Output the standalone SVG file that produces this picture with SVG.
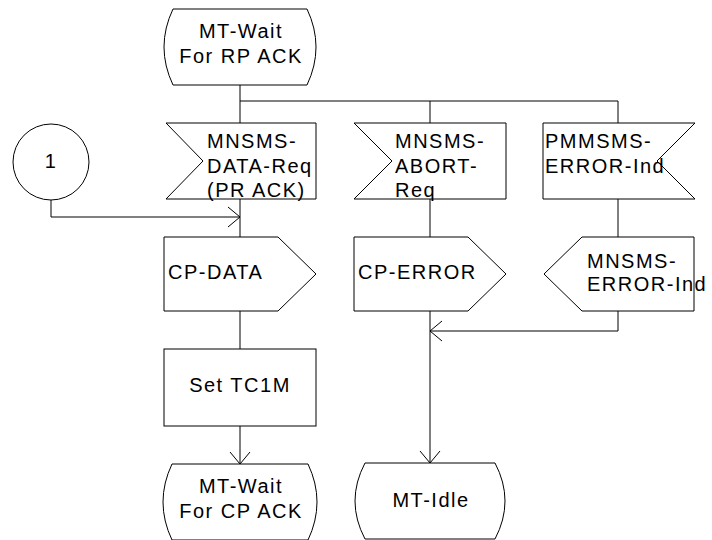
<svg xmlns="http://www.w3.org/2000/svg" width="712" height="540" viewBox="0 0 712 540">
<defs>
<marker id="arr" markerUnits="userSpaceOnUse" viewBox="-13 -11 14 22" refX="0" refY="0" markerWidth="14" markerHeight="22" orient="auto" overflow="visible">
<path d="M-12,-10 L0,0 L-12,10" fill="none" stroke="#000" stroke-width="1"/>
</marker>
<style>
.s{fill:#fff;stroke:#000;stroke-width:1}
.t{font-family:"Liberation Sans",Arial,sans-serif;font-size:20px;letter-spacing:1.5px;fill:#000}
.m{text-anchor:middle}
.c{fill:none;stroke:#000;stroke-width:1}
</style>
</defs>
<rect width="712" height="540" fill="#fff"/>
<g id="connectors">
<path class="c" d="M240,85 V123"/>
<path class="c" d="M240,101 H430" stroke-width="2"/>
<path class="c" d="M430,101 H618"/>
<path class="c" d="M430,101 V123"/>
<path class="c" d="M618,101 V123"/>
<path class="c" d="M240,199 V237"/>
<path class="c" d="M51,200 V217 H240" marker-end="url(#arr)"/>
<path class="c" d="M430,199 V237"/>
<path class="c" d="M618,199 V237"/>
<path class="c" d="M240,311 V349"/>
<path class="c" d="M240,426 V464" marker-end="url(#arr)"/>
<path class="c" d="M618,311 V331 H430" marker-end="url(#arr)"/>
<path class="c" d="M430,311 V463" marker-end="url(#arr)"/>
</g>
<g id="state_wait_rp">
<path class="s" d="M173,9 H307 Q325,47 307,85 H173 Q155,47 173,9 Z"/>
<text class="t m" x="241" y="38">MT-Wait</text>
<text class="t m" x="241" y="63">For RP ACK</text>
</g>
<g id="connector_1">
<circle class="s" cx="51" cy="162" r="38"/>
<text class="t m" x="51" y="168">1</text>
</g>
<g id="in_data_req">
<polygon class="s" points="166,123 316,123 316,199 166,199 203,161"/>
<text class="t" x="207" y="148">MNSMS-</text>
<text class="t" x="207" y="172.5">DATA-Req</text>
<text class="t" x="207" y="197">(PR ACK)</text>
</g>
<g id="in_abort_req">
<polygon class="s" points="354,123 506,123 506,199 354,199 392,161"/>
<text class="t" x="395" y="148">MNSMS-</text>
<text class="t" x="395" y="172.5">ABORT-</text>
<text class="t" x="395" y="197">Req</text>
</g>
<g id="in_error_ind">
<polygon class="s" points="543,123 695,123 657,161 695,199 543,199"/>
<text class="t" x="545" y="148">PMMSMS-</text>
<text class="t" x="545" y="172.5">ERROR-Ind</text>
</g>
<g id="out_cp_data">
<polygon class="s" points="164,237 278,237 316,274 278,311 164,311"/>
<text class="t" x="168" y="279">CP-DATA</text>
</g>
<g id="out_cp_error">
<polygon class="s" points="354,237 468,237 506,274 468,311 354,311"/>
<text class="t" x="358" y="279">CP-ERROR</text>
</g>
<g id="out_error_ind">
<polygon class="s" points="544,274 582,237 694,237 694,311 582,311"/>
<text class="t" x="587" y="268">MNSMS-</text>
<text class="t" x="587" y="291">ERROR-Ind</text>
</g>
<g id="task_set_tc1m">
<rect class="s" x="164" y="349" width="152" height="77"/>
<text class="t m" x="240" y="392">Set TC1M</text>
</g>
<g id="state_wait_cp">
<path class="s" d="M172,464 H308 Q326,502 308,540 H172 Q154,502 172,464 Z"/>
<text class="t m" x="241" y="493">MT-Wait</text>
<text class="t m" x="241" y="518">For CP ACK</text>
</g>
<g id="state_idle">
<path class="s" d="M365,463 H495 Q515,501 495,539 H365 Q345,501 365,463 Z"/>
<text class="t m" x="431" y="507">MT-Idle</text>
</g>
</svg>
